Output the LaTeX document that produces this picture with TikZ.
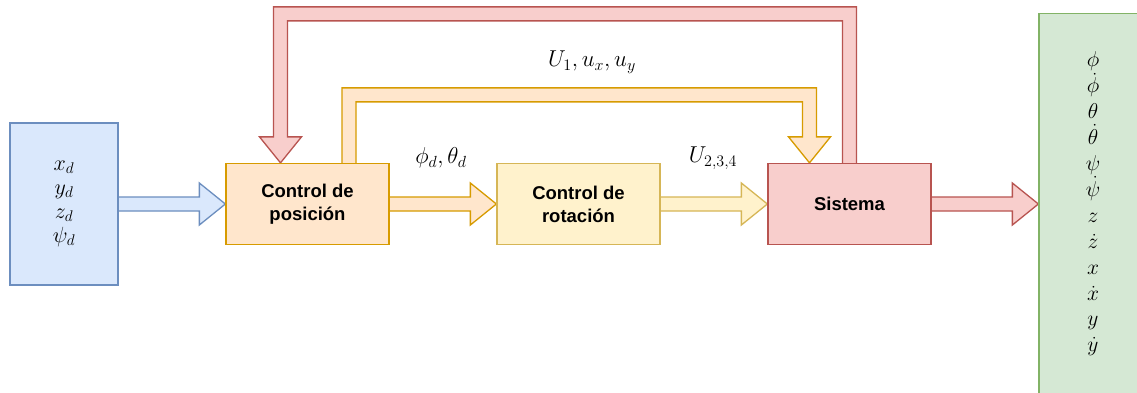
\documentclass[tikz,border=0pt]{standalone}
\usepackage{fix-cm}
\usepackage{fontspec}
\setmainfont{Liberation Sans}
\usetikzlibrary{calc,backgrounds}

\definecolor{blueF}{HTML}{DAE8FC}\definecolor{blueD}{HTML}{6C8EBF}
\definecolor{orangeF}{HTML}{FFE6CC}\definecolor{orangeD}{HTML}{D79B00}
\definecolor{yellowF}{HTML}{FFF2CC}\definecolor{yellowD}{HTML}{D6B656}
\definecolor{redF}{HTML}{F8CECC}\definecolor{redD}{HTML}{B85450}
\definecolor{greenF}{HTML}{D5E8D4}\definecolor{greenD}{HTML}{82B366}

% straight block arrow: #1 colour style, #2 start anchor, #3 tip anchor
\newcommand\fatarr[3]{%
  \draw[#1] ($(#2)+(0,-7)$) -- ($(#3)+(-26,-7)$) -- ($(#3)+(-26,-21)$) -- (#3)
    -- ($(#3)+(-26,21)$) -- ($(#3)+(-26,7)$) -- ($(#2)+(0,7)$);}

\begin{document}
\begin{tikzpicture}[x=1pt,y=-1pt,
  blk/.style={draw, line width=1.3pt, inner sep=0pt, align=center,
    font=\fontsize{18.5}{23}\selectfont\bfseries,
    minimum width=163pt, minimum height=81pt},
  varbox/.style={draw, line width=1.3pt, inner sep=0pt, align=center,
    minimum width=108pt},
  fat/.style={line width=1.3pt, line join=miter},
  fatB/.style={fat, fill=blueF, draw=blueD},
  fatO/.style={fat, fill=orangeF, draw=orangeD},
  fatY/.style={fat, fill=yellowF, draw=yellowD},
  fatR/.style={fat, fill=redF, draw=redD},
  lbl/.style={inner sep=0pt, font=\fontsize{23}{26}\selectfont}]

\useasboundingbox (0,0) rectangle (1137,392);
\clip (0,0) rectangle (1137,392);

% desired references
\node[varbox, fill=blueF, draw=blueD, minimum height=162pt,
  font=\fontsize{22}{24}\selectfont] (ref) at (64,204)
  {$x_d$\\$y_d$\\$z_d$\\$\psi_d$};

% control loop blocks
\node[blk, fill=orangeF, draw=orangeD] (pos) at (307.5,204) {Control de\\posición};
\node[blk, fill=yellowF, draw=yellowD] (rot) at (578.5,204) {Control de\\rotación};
\node[blk, fill=redF, draw=redD] (sis) at (849.5,204) {Sistema};

% state vector
\node[varbox, fill=greenF, draw=greenD, minimum height=381pt,
  font=\fontsize{21.5}{25.9}\selectfont] (out) at (1093,204)
  {$\phi$\\$\dot\phi$\\$\theta$\\$\dot\theta$\\$\psi$\\$\dot\psi$\\$z$\\$\dot z$\\$x$\\$\dot x$\\$y$\\$\dot y$};

% signal labels
\node[lbl] (l1) at (592,62) {$U_1, u_x, u_y$};
\node[lbl] (l2) at (441,158) {$\phi_d, \theta_d$};
\node[lbl] (l3) at (713,158) {$U_{2,3,4}$};

\begin{scope}[on background layer]
  \fill[white] (0,0) rectangle (1137,392);
  \fatarr{fatB}{ref.east}{pos.west}
  \fatarr{fatO}{pos.east}{rot.west}
  \fatarr{fatY}{rot.east}{sis.west}
  \fatarr{fatR}{sis.east}{out.west}

  % feedback of the system state to the position controller
  \coordinate (rT) at ($(pos.north)+(-27,0)$);
  \draw[fatR] ($(sis.north)+(-7,0)$) -- ($(sis.north)+(-7,-142)$)
    -- ($(rT)+(7,-142)$) -- ($(rT)+(7,-26)$) -- ($(rT)+(21,-26)$) -- (rT)
    -- ($(rT)+(-21,-26)$) -- ($(rT)+(-7,-26)$) -- ($(rT)+(-7,-156)$)
    -- ($(sis.north)+(7,-156)$) -- ($(sis.north)+(7,0)$);

  % thrust and lateral commands straight to the system
  \coordinate (oS) at ($(pos.north)+(41.5,0)$);
  \coordinate (oT) at ($(sis.north)+(-40,0)$);
  \draw[fatO] ($(oS)+(-7,0)$) -- ($(oS)+(-7,-75)$) -- ($(oT)+(7,-75)$)
    -- ($(oT)+(7,-26)$) -- ($(oT)+(21,-26)$) -- (oT) -- ($(oT)+(-21,-26)$)
    -- ($(oT)+(-7,-26)$) -- ($(oT)+(-7,-61)$) -- ($(oS)+(7,-61)$)
    -- ($(oS)+(7,0)$);
\end{scope}
\end{tikzpicture}
\end{document}
